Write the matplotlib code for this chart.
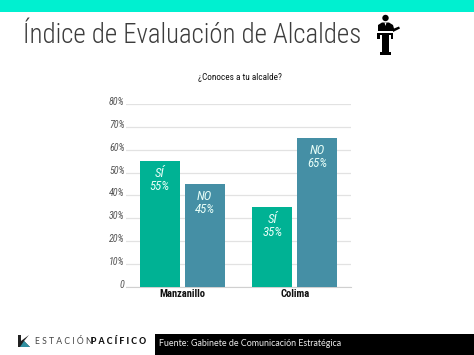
import matplotlib
matplotlib.use("Agg")
import matplotlib.pyplot as plt
from matplotlib.patches import Rectangle, Circle, Polygon
from matplotlib.transforms import ScaledTranslation
import numpy as np

cities = ["Manzanillo", "Colima"]
si_vals = [55, 35]
no_vals = [45, 65]
yticks = [0, 10, 20, 30, 40, 50, 60, 70, 80]
ylabels = ["0", "10%", "20%", "30%", "40%", "50%", "60%", "70%", "80%"]

narrow = "Roboto Condensed"
W, H = 474, 355
fig = plt.figure(figsize=(W/100, H/100), dpi=100, facecolor="white")

# pixel overlay
ov = fig.add_axes([0, 0, 1, 1], zorder=0)
ov.set_xlim(0, W); ov.set_ylim(H, 0); ov.axis("off")
ov.add_patch(Rectangle((0, 0), W, 11.5, color="#00F0D0", lw=0))
ov.text(23, 35.5, "Índice de Evaluación de Alcaldes", family=narrow, weight=300, fontsize=19.4,
        color="#3C3C3C", va="center", ha="left")
ov.text(240, 78, "¿Conoces a tu alcalde?", family=narrow, fontsize=6.7, color="#111111",
        va="center", ha="center")
# speaker icon
ink = "black"
ov.add_patch(Circle((385.5, 18), 3.2, color=ink, lw=0))
ov.add_patch(Polygon([(378, 31), (378, 25), (382, 22.5), (389, 22.5), (393, 25), (394, 28.5),
                      (399, 26.5), (400, 28.5), (393, 32), (393, 31)], color=ink, lw=0))
ov.add_patch(Polygon([(384.5, 22.5), (386.5, 22.5), (385.5, 26)], color="white", lw=0))
ov.add_patch(Rectangle((377.5, 32.5), 16, 2.6, color=ink, lw=0))
ov.add_patch(Rectangle((377.5, 32.5), 2.2, 6, color=ink, lw=0))
ov.add_patch(Rectangle((391.3, 32.5), 2.2, 6, color=ink, lw=0))
ov.add_patch(Rectangle((382, 35), 6.8, 18, color=ink, lw=0))
ov.add_patch(Rectangle((380, 52), 11, 3, color=ink, lw=0))
# footer
ov.add_patch(Rectangle((155, 334), 319, 21, color="black", lw=0))
ov.text(159.5, 343.5, "Fuente: Gabinete de Comunicación Estratégica", family="Lato",
        fontsize=6.4, color="#EEEEEE", va="center", ha="left")
ov.add_patch(Polygon([(18, 335), (21, 335), (21, 347), (18, 347)], color="#222222", lw=0))
ov.add_patch(Polygon([(21, 341), (29, 335), (24, 341), (30, 347), (21, 347)], color="#222222", lw=0))
ov.add_patch(Polygon([(20, 347), (30, 347), (24, 341)], color="#2F8FA0", lw=0))
ov.text(35, 341.5, "E S T A C I Ó N", family="Lato", fontsize=6.2, color="#444444",
        va="center", ha="left")
ov.text(91, 341.5, "P A C Í F I C O", family="Lato", fontsize=6.3, weight="black",
        color="#111111", va="center", ha="left")

# chart
ax = fig.add_axes([126/W, 1-286.5/H, 225/W, 182.3/H], zorder=1)
ax.patch.set_alpha(0)
x = np.arange(len(cities))
bw = 0.358
off = 0.2
ax.bar(x-off, si_vals, bw, color="#00B294", zorder=3)
ax.bar(x+off, no_vals, bw, color="#458FA5", zorder=3)
for xi, v in zip(x-off, si_vals):
    ax.text(xi, v-2.6, f"SÍ\n{v}%", color="#E8FFF8", family=narrow, style="italic", fontsize=9.3,
            ha="center", va="top", linespacing=1.0, zorder=4)
for xi, v in zip(x+off, no_vals):
    ax.text(xi, v-2.6, f"NO\n{v}%", color="#E8FFF8", family=narrow, style="italic", fontsize=9.3,
            ha="center", va="top", linespacing=1.0, zorder=4)
ax.set_xlim(-0.5, 1.5); ax.set_ylim(0, 80)
ax.set_yticks(yticks); ax.set_yticklabels(ylabels, family=narrow, style="italic", fontsize=7.2, color="#555555")
ax.set_xticks(x); ax.set_xticklabels(cities, family=narrow, weight="bold", fontsize=7.6, color="#111111")
ax.tick_params(axis="y", length=0, pad=1)
ax.tick_params(axis="x", length=0, pad=1.5)
shift = ScaledTranslation(0, 3/100, fig.dpi_scale_trans)
for lab in ax.get_yticklabels():
    lab.set_transform(lab.get_transform() + shift)
ax.grid(axis="y", color="#E2E2E2", lw=0.9, zorder=0)
ax.set_axisbelow(True)
for s in ["top", "right", "left"]:
    ax.spines[s].set_visible(False)
ax.spines["bottom"].set_color("#D0D0D0")
fig.savefig("out.png", dpi=100)
